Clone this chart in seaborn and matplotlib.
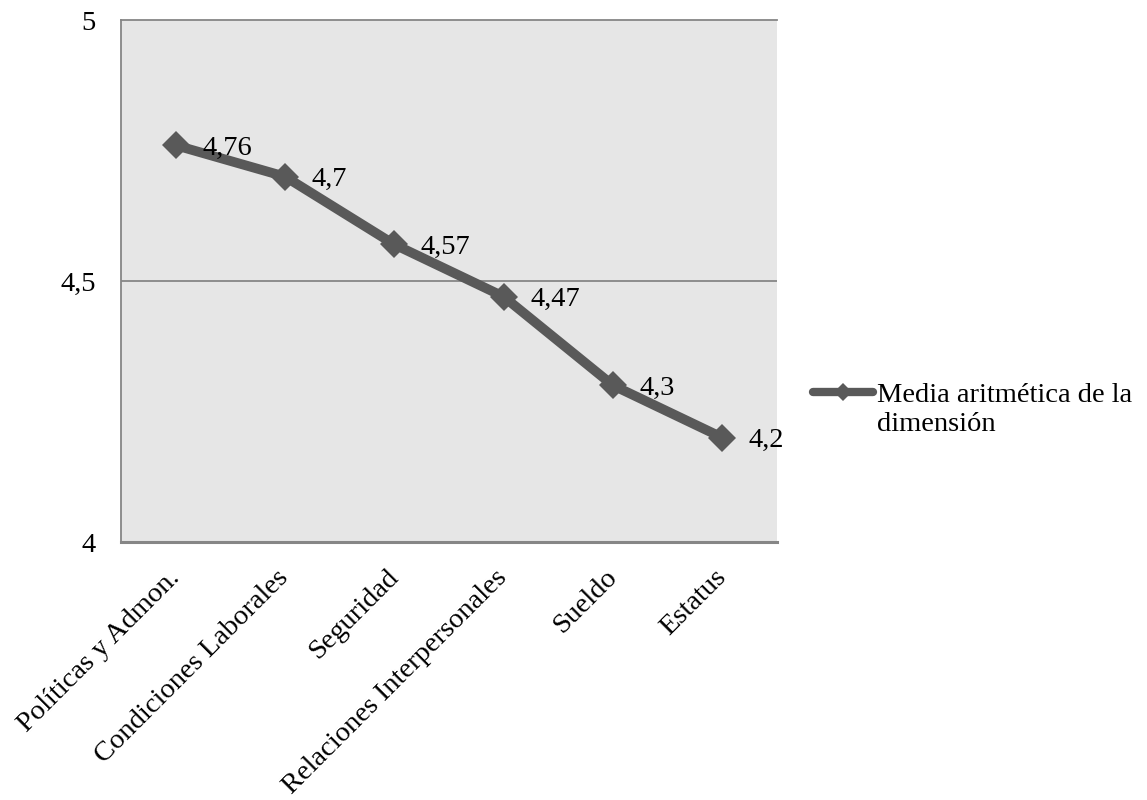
import matplotlib
matplotlib.use("Agg")
import matplotlib.pyplot as plt
from matplotlib.legend_handler import HandlerLine2D
import pandas as pd
import seaborn as sns

# Dimension names and their arithmetic means
categorias = ["Políticas y Admon.", "Condiciones Laborales", "Seguridad",
              "Relaciones Interpersonales", "Sueldo", "Estatus"]
medias = [4.76, 4.7, 4.57, 4.47, 4.3, 4.2]
etiquetas = ["4,76", "4,7", "4,57", "4,47", "4,3", "4,2"]
ticks_y = [4, 4.5, 5]
ticks_y_txt = ["4", "4,5", "5"]
serie = "Media aritmética de la\ndimensión"

df = pd.DataFrame({"categoria": categorias, "media": medias})

sns.set_theme(style="white")
plt.rcParams["font.family"] = ["Liberation Serif", "DejaVu Serif"]
plt.rcParams["text.color"] = "black"
plt.rcParams["xtick.color"] = "black"
plt.rcParams["ytick.color"] = "black"
FS = 20.5
LINE_COLOR = "#595959"
GRID_COLOR = "#868686"

fig = plt.figure(figsize=(11.47, 8), dpi=100)
ax = fig.add_axes([0.1055, 0.3225, 0.5719, 0.6525])
ax.set_facecolor("#E6E6E6")

sns.lineplot(data=df, x="categoria", y="media", ax=ax, sort=False,
             color=LINE_COLOR, linewidth=7, marker="D", markersize=14,
             markeredgewidth=0, label=serie)

# Value labels to the right of each point
for i, (v, t) in enumerate(zip(medias, etiquetas)):
    ax.annotate(t, xy=(i, v), xytext=(19, 0), textcoords="offset points",
                ha="left", va="center_baseline", fontsize=FS, color="black")

ax.set_xlim(-0.5, len(categorias) - 0.5)
ax.set_ylim(4, 5)
ax.set_yticks(ticks_y)
ax.set_yticklabels(ticks_y_txt, fontsize=FS, color="black")
ax.set_xticks(range(len(categorias)))
ax.set_xticklabels(categorias, fontsize=FS, rotation=45, ha="right",
                   va="center", rotation_mode="anchor", color="black")
ax.tick_params(axis="x", length=0, pad=23)
ax.tick_params(axis="y", length=0, pad=18)
ax.set_xlabel("")
ax.set_ylabel("")

ax.axhline(4.5, color=GRID_COLOR, linewidth=1.3, zorder=0.5)

for side in ["left", "top"]:
    ax.spines[side].set_color(GRID_COLOR)
    ax.spines[side].set_linewidth(1.3)
ax.spines["bottom"].set_color(GRID_COLOR)
ax.spines["bottom"].set_linewidth(2.2)
ax.spines["right"].set_visible(False)


class TopAlignedHandler(HandlerLine2D):
    """Place the legend sample beside the first line of a two-line label."""

    def __init__(self, shift, **kw):
        super().__init__(**kw)
        self.shift = shift

    def create_artists(self, legend, orig_handle, xdescent, ydescent,
                       width, height, fontsize, trans):
        artists = super().create_artists(legend, orig_handle, xdescent,
                                         ydescent, width, height, fontsize,
                                         trans)
        for a in artists:
            a.set_ydata([y + self.shift for y in a.get_ydata()])
            a.set_linewidth(6)
            if a.get_marker() not in (None, "None", ""):
                a.set_markersize(9)
        return artists


handles, labels = ax.get_legend_handles_labels()
leg = ax.legend(handles, labels, loc="center left",
                bbox_to_anchor=(1.0, 0.253), frameon=False, fontsize=FS,
                handlelength=2.1, handletextpad=0.12, borderaxespad=0.88,
                labelcolor="black",
                handler_map={handles[0]: TopAlignedHandler(shift=12.6)})
for txt in leg.get_texts():
    txt.set_linespacing(1.25)

fig.savefig("out.png", dpi=100)
